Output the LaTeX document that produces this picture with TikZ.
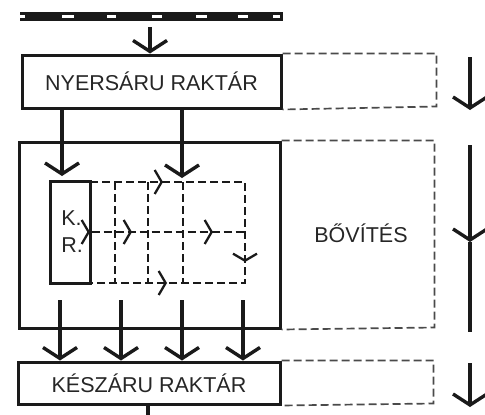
\documentclass[tikz,border=0pt]{standalone}
\usepackage{fontspec}
\setmainfont{Liberation Sans}
\usetikzlibrary{arrows.meta}
\definecolor{ink}{HTML}{1A1A1A}
\definecolor{txt}{HTML}{262626}
\definecolor{extc}{HTML}{4A4A4A}
\begin{document}
\begin{tikzpicture}[x=1pt,y=-1pt,
  box/.style={draw=ink, line width=3pt, inner sep=0pt, text=txt, font=\fontsize{21.5}{27}\selectfont},
  extbox/.style={draw=extc, line width=1.7pt, dash pattern=on 8pt off 4pt},
  flow/.style={draw=ink, line width=3.4pt, -{Straight Barb[length=11pt,width=34pt]}},
  plain/.style={draw=ink, line width=3.4pt},
  gridline/.style={draw=ink, line width=2.3pt, dash pattern=on 8pt off 4pt},
  tinyhead/.style={draw=ink, line width=2.3pt, -{Straight Barb[length=7pt,width=24pt]}},
  lbl/.style={text=txt, font=\fontsize{21.5}{27}\selectfont, inner sep=0pt}
]
\useasboundingbox (0,0) rectangle (485,415);

% rail
\node[fill=ink, minimum width=263pt, minimum height=9pt, inner sep=0pt] (rail) at (151.5,16.5) {};
\foreach \a/\b in {20/25, 62/74, 107/116, 152/162, 196/207, 238/248, 273/280}
  \draw[white, line width=2.4pt] (\a,16.5) -- (\b,16.5);

% boxes
\node[box, minimum width=259pt, minimum height=53pt] (nyers) at (151.5,81.5) {NYERSÁRU RAKTÁR};
\node[box, minimum width=261pt, minimum height=186pt] (big) at (149.5,235) {};
\node[box, minimum width=262pt, minimum height=42pt] (kesz) at (149,383) {KÉSZÁRU RAKTÁR};
\node[box, minimum width=40pt, minimum height=102pt] (kr) at (70,232) {};
\node[lbl, align=left] (krt) at (72,232) {K.\\R.};
\node[lbl] (bov) at (361,233) {BŐVÍTÉS};

% extensions
\draw[extbox] (nyers.north east) -- ++(154,0) -- ++(0,53) -- (nyers.south east);
\draw[extbox] (big.north east) -- ++(153,0) -- ++(0,187) -- (big.south east);
\draw[extbox] (kesz.north east) -- ++(152,0) -- ++(0,43) -- (kesz.south east);

% rail arrow
\coordinate (r0) at (150,27);
\draw[flow] (r0) -- (r0 |- nyers.north);

% arrows from raw store
\coordinate (t1) at (62,176);
\coordinate (t2) at (182,178);
\draw[flow] (t1 |- nyers.south) -- (t1);
\draw[flow] (t2 |- nyers.south) -- (t2);

% arrows to finished store
\foreach \x [count=\i] in {60,121,182,243} {
  \coordinate (b\i) at (\x,300);
  \draw[flow] (b\i) -- (b\i |- kesz.north);
}
\coordinate (exitc) at (148,415);
\draw[plain] (exitc |- kesz.south) -- (exitc);

% right-hand arrows
\coordinate (s1a) at (470,57); \coordinate (s1b) at (470,110);
\draw[flow] (s1a) -- (s1b);
\coordinate (s2a) at (470,145); \coordinate (s2m) at (470,242); \coordinate (s2b) at (470,332);
\draw[flow] (s2a) -- (s2m);
\draw[plain] (s2m) -- (s2b);
\coordinate (s3a) at (470,363); \coordinate (s3b) at (470,407);
\draw[flow] (s3a) -- (s3b);

% dashed grid
\draw[gridline] (90,182) -- (245,182) -- (245,283) -- (90,283);
\draw[gridline] (kr.east) -- (245,232);
\foreach \x in {115,148,183}
  \draw[gridline] (\x,182) -- (\x,283);

% small heads
\draw[tinyhead] (162,182) -- (163,182);
\draw[tinyhead] (89,232) -- (90,232);
\draw[tinyhead] (131,232) -- (132,232);
\draw[tinyhead] (212,232) -- (213,232);
\draw[tinyhead] (245,261) -- (245,262);
\draw[tinyhead] (166,283) -- (167,283);
\end{tikzpicture}
\end{document}
